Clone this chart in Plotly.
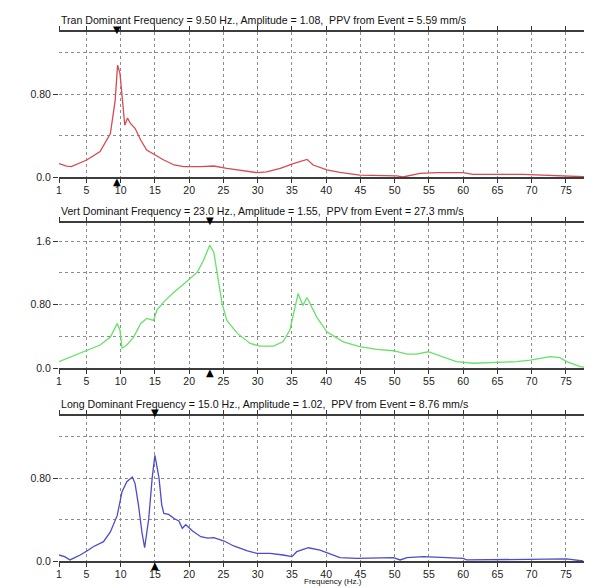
import plotly.graph_objects as go

# Tran channel
tran_freq = [1, 2.1, 2.8, 5.05, 7, 8.5, 9.2, 9.55, 9.9, 10.3, 10.6, 11.0, 11.4, 12.1, 12.9, 13.8,
             15.1, 16.3, 17.8, 19.2, 21.7, 23.6, 25.5, 27.5, 29.9, 31.3, 33.3, 35.2, 37.2, 38.1,
             40.1, 42, 44.9, 50.3, 51.2, 53.7, 56.1, 60, 61.4, 68.7, 75.1, 78.5]
tran_amp = [0.13, 0.106, 0.10, 0.164, 0.245, 0.42, 0.74, 1.08, 1.0, 0.74, 0.50, 0.57, 0.52, 0.47, 0.36, 0.26,
            0.21, 0.164, 0.116, 0.10, 0.10, 0.106, 0.084, 0.068, 0.042, 0.05, 0.084, 0.13, 0.17, 0.116,
            0.068, 0.045, 0.019, 0.01, 0.0, 0.035, 0.042, 0.042, 0.026, 0.026, 0.013, 0.0]

# Vert channel
vert_freq = [1, 5.05, 7, 8.5, 9.5, 9.9, 10.2, 10.9, 11.9, 12.9, 13.8, 14.8, 15.3, 16.3, 17.8, 19,
             20.2, 21.2, 22.1, 23.0, 23.6, 24.3, 24.8, 25.5, 27, 28.9, 30.3, 32.3, 33.7, 34.7, 35.3,
             35.9, 36.6, 37.2, 38.6, 40.1, 42.5, 44.9, 47.4, 49.8, 51.8, 53.2, 54.9, 56.6, 59, 61.5,
             64.9, 67.8, 69.8, 72.7, 74.1, 75.1, 77.1, 78.5]
vert_amp = [0.08, 0.227, 0.29, 0.39, 0.56, 0.48, 0.25, 0.29, 0.39, 0.56, 0.626, 0.6, 0.73, 0.835, 0.96, 1.045,
            1.13, 1.21, 1.36, 1.55, 1.46, 1.07, 0.815, 0.6, 0.44, 0.31, 0.277, 0.277, 0.33, 0.48, 0.73,
            0.94, 0.79, 0.89, 0.646, 0.457, 0.33, 0.27, 0.235, 0.218, 0.176, 0.176, 0.205, 0.15, 0.08, 0.06,
            0.067, 0.08, 0.10, 0.143, 0.13, 0.08, 0.017, 0.0]

# Long channel
long_freq = [1, 1.9, 2.6, 4.1, 5.3, 6, 7.5, 8.5, 9.5, 10.2, 10.9, 11.7, 12.1, 12.6, 13.1, 13.5, 14.1,
             14.6, 15.0, 15.6, 16, 16.3, 17, 17.8, 18.5, 19, 19.5, 20.5, 21.7, 22.7, 23.6, 25.1, 26.5,
             28.5, 29.9, 31.8, 33.7, 35, 35.7, 37.4, 39.1, 40.6, 42, 44.5, 46.9, 49.8, 50.8, 51.8,
             54.2, 57.1, 60, 60.5, 72.7, 75.1, 77.5]
long_amp = [0.058, 0.04, 0.01, 0.058, 0.106, 0.138, 0.187, 0.28, 0.44, 0.67, 0.765, 0.81, 0.75, 0.54, 0.28, 0.128, 0.41,
            0.80, 1.02, 0.80, 0.54, 0.46, 0.45, 0.41, 0.386, 0.316, 0.35, 0.29, 0.235, 0.22, 0.225, 0.193, 0.145,
            0.097, 0.074, 0.074, 0.058, 0.042, 0.09, 0.128, 0.106, 0.064, 0.032, 0.026, 0.032, 0.032, 0.01, 0.032,
            0.042, 0.032, 0.026, 0.01, 0.02, 0.02, 0.0]

titles = [
    "Tran Dominant Frequency = 9.50 Hz., Amplitude = 1.08,  PPV from Event = 5.59 mm/s",
    "Vert Dominant Frequency = 23.0 Hz., Amplitude = 1.55,  PPV from Event = 27.3 mm/s",
    "Long Dominant Frequency = 15.0 Hz., Amplitude = 1.02,  PPV from Event = 8.76 mm/s",
]
dominant = [9.5, 23.0, 15.0]
colors = ["#d84a4f", "#66e266", "#4b4bcc"]
x_ticks = [1, 5, 10, 15, 20, 25, 30, 35, 40, 45, 50, 55, 60, 65, 70, 75]
y_tops = [1.4, 1.83, 1.4]
y_major = [[0, 0.8], [0, 0.8, 1.6], [0, 0.8]]
y_major_text = [["0.0", "0.80"], ["0.0", "0.80", "1.6"], ["0.0", "0.80"]]
y_minor = [[0.4, 1.2], [0.4, 1.2], [0.4, 1.2]]

# the page body adds an 8px margin, so the figure is drawn 8px smaller and offset
OFF = 8
W, H = 592 - OFF, 587 - OFF
left = (59 - OFF) / W
panels_px = [(32, 177), (223, 368), (416, 561)]
font = "Liberation Sans, Arial, sans-serif"
grid = "#8c8c8c"

fig = go.Figure()
series = [(tran_freq, tran_amp), (vert_freq, vert_amp), (long_freq, long_amp)]
for i, (fx, fy) in enumerate(series):
    n = "" if i == 0 else str(i + 1)
    fig.add_trace(go.Scatter(x=fx, y=fy, mode="lines", xaxis="x" + n, yaxis="y" + n,
                             line=dict(color=colors[i], width=1.3), showlegend=False))
    top, bot = panels_px[i]
    fig.layout["xaxis" + n] = dict(
        domain=[left, 1], range=[1, 78.8], anchor="y" + n, automargin=False,
        tickvals=x_ticks, ticks="outside", ticklen=4, tickcolor="#333",
        ticklabelstandoff=-2,
        showline=True, linecolor="#3c3c3c", linewidth=1.8, mirror="ticks",
        showgrid=True, gridcolor=grid, griddash="dot", gridwidth=1,
        zeroline=False, tickfont=dict(size=10.5, color="#222", family=font),
    )
    fig.layout["yaxis" + n] = dict(
        domain=[1 - (bot - OFF) / H, 1 - (top - OFF) / H], range=[0, y_tops[i]],
        anchor="x" + n, automargin=False,
        tickvals=y_major[i], ticktext=y_major_text[i], ticks="outside", ticklen=5,
        tickcolor="#333", showline=False, zeroline=False,
        showgrid=True, gridcolor=grid, griddash="dot", gridwidth=1,
        minor=dict(tickvals=y_minor[i], showgrid=True, gridcolor=grid, griddash="dot",
                   gridwidth=1, ticks=""),
        tickfont=dict(size=10.5, color="#222", family=font),
    )
    # title above each panel
    fig.add_annotation(text=titles[i], xref="paper", x=left, yref="y" + n + " domain", y=1,
                       xanchor="left", yanchor="middle", yshift=12, showarrow=False,
                       font=dict(size=10.6, color="#111", family=font))
    # dominant frequency markers
    fig.add_annotation(text="▼", xref="x" + n, x=dominant[i], yref="y" + n + " domain", y=1,
                       yanchor="middle", yshift=3, showarrow=False,
                       font=dict(size=10, color="#000", family="DejaVu Sans"))
    fig.add_annotation(text="▲", xref="x" + n, x=dominant[i], yref="y" + n + " domain", y=0,
                       yanchor="middle", yshift=-4, showarrow=False,
                       font=dict(size=10, color="#000", family="DejaVu Sans"))

fig.add_annotation(text="Frequency (Hz.)", xref="paper", x=(333 - OFF) / W, yref="paper", y=0,
                   xanchor="center", yanchor="bottom", yshift=-1, showarrow=False,
                   font=dict(size=8, color="#111", family=font))

fig.update_layout(width=W, height=H, margin=dict(l=0, r=0, t=0, b=0),
                  paper_bgcolor="white", plot_bgcolor="white", showlegend=False)

fig.write_html("out.html")
